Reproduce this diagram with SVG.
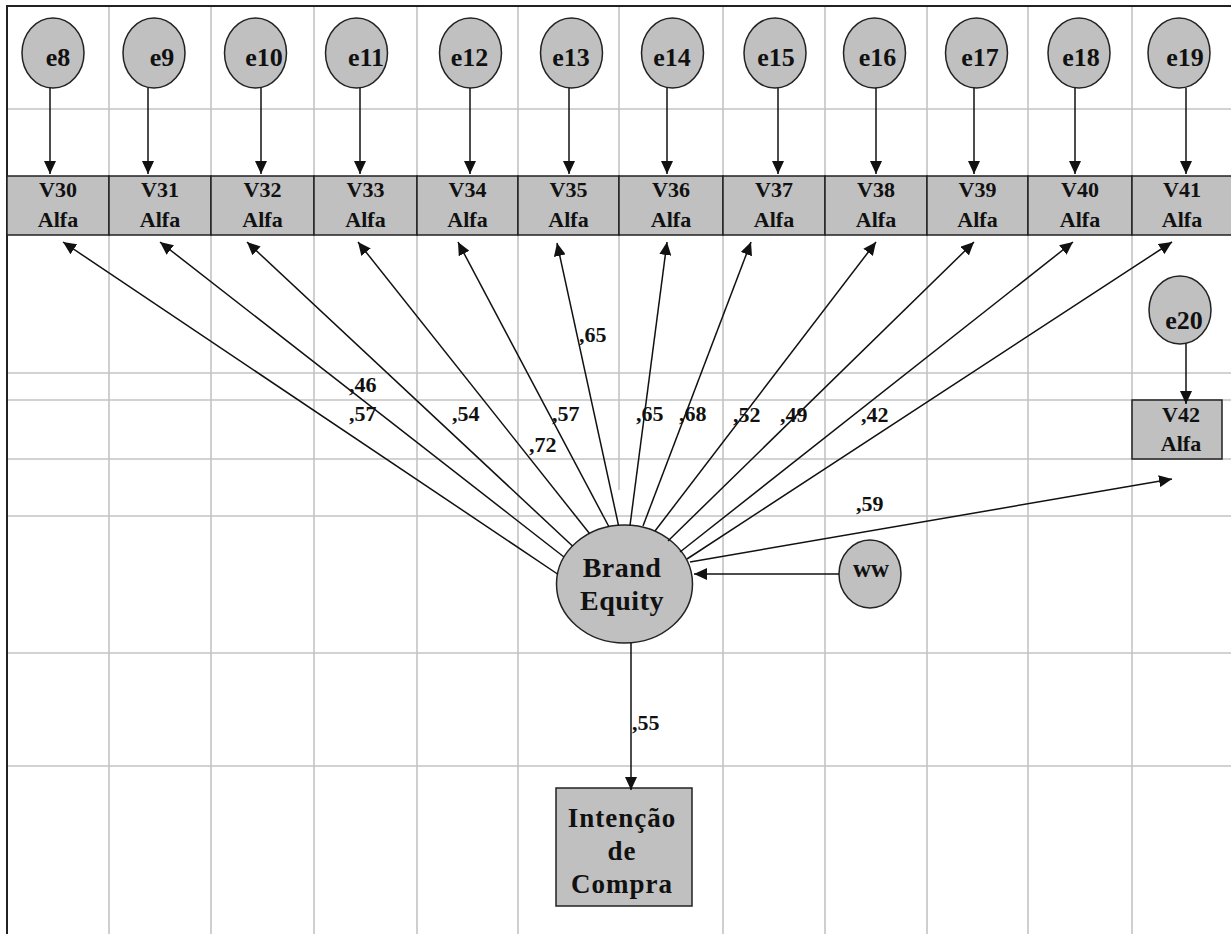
<svg xmlns="http://www.w3.org/2000/svg" width="1231" height="934" viewBox="0 0 1231 934">
  <defs>
    <marker id="head" markerUnits="userSpaceOnUse" markerWidth="14" markerHeight="12" refX="13" refY="6" orient="auto">
      <path d="M0,0 L13,6 L0,12 z" fill="#111"/>
    </marker>
    <style>
      .grid { stroke: #c4c4c4; stroke-width: 1.6; fill: none; }
      .border { stroke: #222; stroke-width: 2; fill: none; }
      .node { fill: #c0c0c0; stroke: #222; stroke-width: 1.5; }
      .edge { stroke: #111; stroke-width: 1.5; fill: none; marker-end: url(#head); }
      .err { font-family: "Liberation Serif", "Times New Roman", serif; font-size: 26px; font-weight: bold; fill: #111; text-anchor: middle; }
      .var { font-family: "Liberation Serif", "Times New Roman", serif; font-size: 22px; font-weight: bold; fill: #111; text-anchor: middle; }
      .lat { font-family: "Liberation Serif", "Times New Roman", serif; font-size: 28px; font-weight: bold; fill: #111; text-anchor: middle; letter-spacing: 0.5px; }
      .coef { font-family: "Liberation Serif", "Times New Roman", serif; font-size: 22px; font-weight: bold; fill: #111; }
    </style>
  </defs>

  <rect x="0" y="0" width="1231" height="934" fill="#ffffff"/>

  <!-- background grid -->
  <g id="grid">
    <path class="grid" d="M109,6V934 M211,6V934 M314,6V934 M417,6V934 M518,6V934 M619,6V490 M723,6V934 M825,6V934 M927,6V934 M1028,6V934 M1132,6V934"/>
    <path class="grid" d="M7,109H1231 M7,373H1231 M7,400H1231 M7,459H1231 M7,516H1231 M7,653H1231 M7,766H1231"/>
    <path class="border" d="M7,934V6H1231"/>
  </g>

  <!-- observed indicators -->
  <g id="V30"><rect class="node" x="7" y="176" width="102" height="59"/><text class="var" x="58" y="197">V30</text><text class="var" x="58" y="227">Alfa</text></g>
  <g id="V31"><rect class="node" x="109" y="176" width="102" height="59"/><text class="var" x="160" y="197">V31</text><text class="var" x="160" y="227">Alfa</text></g>
  <g id="V32"><rect class="node" x="211" y="176" width="103" height="59"/><text class="var" x="262.5" y="197">V32</text><text class="var" x="262.5" y="227">Alfa</text></g>
  <g id="V33"><rect class="node" x="314" y="176" width="103" height="59"/><text class="var" x="365.5" y="197">V33</text><text class="var" x="365.5" y="227">Alfa</text></g>
  <g id="V34"><rect class="node" x="417" y="176" width="101" height="59"/><text class="var" x="467.5" y="197">V34</text><text class="var" x="467.5" y="227">Alfa</text></g>
  <g id="V35"><rect class="node" x="518" y="176" width="101" height="59"/><text class="var" x="568.5" y="197">V35</text><text class="var" x="568.5" y="227">Alfa</text></g>
  <g id="V36"><rect class="node" x="619" y="176" width="104" height="59"/><text class="var" x="671" y="197">V36</text><text class="var" x="671" y="227">Alfa</text></g>
  <g id="V37"><rect class="node" x="723" y="176" width="102" height="59"/><text class="var" x="774" y="197">V37</text><text class="var" x="774" y="227">Alfa</text></g>
  <g id="V38"><rect class="node" x="825" y="176" width="102" height="59"/><text class="var" x="876" y="197">V38</text><text class="var" x="876" y="227">Alfa</text></g>
  <g id="V39"><rect class="node" x="927" y="176" width="101" height="59"/><text class="var" x="977.5" y="197">V39</text><text class="var" x="977.5" y="227">Alfa</text></g>
  <g id="V40"><rect class="node" x="1028" y="176" width="104" height="59"/><text class="var" x="1080" y="197">V40</text><text class="var" x="1080" y="227">Alfa</text></g>
  <g id="V41"><rect class="node" x="1132" y="176" width="110" height="59"/><text class="var" x="1182" y="197">V41</text><text class="var" x="1182" y="227">Alfa</text></g>
  <g id="V42"><rect class="node" x="1132" y="400" width="90" height="59"/><text class="var" x="1181" y="421.5">V42</text><text class="var" x="1181" y="451">Alfa</text></g>

  <!-- error terms -->
  <g id="e8"><ellipse class="node" cx="53" cy="53" rx="31" ry="35"/><text class="err" x="58" y="66">e8</text></g>
  <g id="e9"><ellipse class="node" cx="154" cy="53" rx="31" ry="35"/><text class="err" x="162" y="66">e9</text></g>
  <g id="e10"><ellipse class="node" cx="255.5" cy="53" rx="31" ry="35"/><text class="err" x="264" y="66">e10</text></g>
  <g id="e11"><ellipse class="node" cx="356.5" cy="53" rx="31" ry="35"/><text class="err" x="366" y="66">e11</text></g>
  <g id="e12"><ellipse class="node" cx="470.5" cy="53" rx="31" ry="35"/><text class="err" x="469.5" y="66">e12</text></g>
  <g id="e13"><ellipse class="node" cx="571.5" cy="53" rx="31" ry="35"/><text class="err" x="571" y="66">e13</text></g>
  <g id="e14"><ellipse class="node" cx="672.5" cy="53" rx="31" ry="35"/><text class="err" x="672" y="66">e14</text></g>
  <g id="e15"><ellipse class="node" cx="775" cy="53" rx="31" ry="35"/><text class="err" x="776" y="66">e15</text></g>
  <g id="e16"><ellipse class="node" cx="874.5" cy="53" rx="31" ry="35"/><text class="err" x="877.5" y="66">e16</text></g>
  <g id="e17"><ellipse class="node" cx="976.5" cy="53" rx="31" ry="35"/><text class="err" x="980" y="66">e17</text></g>
  <g id="e18"><ellipse class="node" cx="1079" cy="53" rx="31" ry="35"/><text class="err" x="1081" y="66">e18</text></g>
  <g id="e19"><ellipse class="node" cx="1179" cy="53" rx="31" ry="35"/><text class="err" x="1185" y="66">e19</text></g>
  <g id="e20"><ellipse class="node" cx="1180" cy="310" rx="31" ry="34"/><text class="err" x="1184" y="329">e20</text></g>
  <g id="ww"><ellipse class="node" cx="870" cy="574" rx="31" ry="34"/><text class="var" x="871" y="577" style="font-size:25px">ww</text></g>

  <!-- latent construct and outcome -->
  <g id="brand-equity"><ellipse class="node" cx="624.5" cy="584" rx="68" ry="59"/><text class="lat" x="622" y="577">Brand</text><text class="lat" x="622" y="610">Equity</text></g>
  <g id="intencao-de-compra"><rect class="node" x="556" y="788" width="136" height="118"/>
    <text class="lat" x="622" y="826.5" style="font-size:27px;letter-spacing:1px">Intenção</text>
    <text class="lat" x="622" y="860" style="font-size:27px;letter-spacing:1px">de</text>
    <text class="lat" x="622" y="893" style="font-size:27px;letter-spacing:1px">Compra</text>
  </g>

  <!-- paths -->
  <g id="connectors">
    <line class="edge" x1="50" y1="88" x2="50" y2="174"/>
    <line class="edge" x1="148" y1="88" x2="148" y2="174"/>
    <line class="edge" x1="261" y1="88" x2="261" y2="174"/>
    <line class="edge" x1="360" y1="88" x2="360" y2="174"/>
    <line class="edge" x1="470" y1="88" x2="470" y2="174"/>
    <line class="edge" x1="569" y1="88" x2="569" y2="174"/>
    <line class="edge" x1="667" y1="88" x2="667" y2="174"/>
    <line class="edge" x1="778" y1="88" x2="778" y2="174"/>
    <line class="edge" x1="876" y1="88" x2="876" y2="174"/>
    <line class="edge" x1="974" y1="88" x2="974" y2="174"/>
    <line class="edge" x1="1075" y1="88" x2="1075" y2="174"/>
    <line class="edge" x1="1186" y1="88" x2="1186" y2="174"/>
    <line class="edge" x1="1186" y1="344" x2="1186" y2="404"/>

    <line class="edge" x1="557.5" y1="574" x2="63" y2="242"/>
    <line class="edge" x1="564" y1="557" x2="160" y2="242"/>
    <line class="edge" x1="572.5" y1="546" x2="247" y2="242"/>
    <line class="edge" x1="589.5" y1="533.5" x2="358" y2="242"/>
    <line class="edge" x1="608.8" y1="526.5" x2="458" y2="242"/>
    <line class="edge" x1="618.5" y1="525.3" x2="557" y2="243"/>
    <line class="edge" x1="630" y1="525.5" x2="667" y2="242"/>
    <line class="edge" x1="643" y1="526" x2="751" y2="242"/>
    <line class="edge" x1="655" y1="531" x2="876" y2="242"/>
    <line class="edge" x1="668" y1="541" x2="974" y2="242"/>
    <line class="edge" x1="680" y1="552" x2="1073" y2="242"/>
    <line class="edge" x1="687" y1="559" x2="1172" y2="242"/>
    <line class="edge" x1="690" y1="562" x2="1172" y2="479"/>

    <line class="edge" x1="839" y1="574" x2="694" y2="574"/>
    <line class="edge" x1="631" y1="643" x2="631" y2="790"/>
  </g>

  <!-- path coefficients -->
  <g id="coefficients">
    <text class="coef" x="579" y="342">,65</text>
    <text class="coef" x="349" y="392">,46</text>
    <text class="coef" x="349" y="421">,57</text>
    <text class="coef" x="452" y="421">,54</text>
    <text class="coef" x="529" y="452">,72</text>
    <text class="coef" x="552" y="421">,57</text>
    <text class="coef" x="636" y="421">,65</text>
    <text class="coef" x="679" y="421">,68</text>
    <text class="coef" x="733" y="422">,52</text>
    <text class="coef" x="780" y="422">,49</text>
    <text class="coef" x="861" y="422">,42</text>
    <text class="coef" x="856" y="511">,59</text>
    <text class="coef" x="632" y="730">,55</text>
  </g>
</svg>
